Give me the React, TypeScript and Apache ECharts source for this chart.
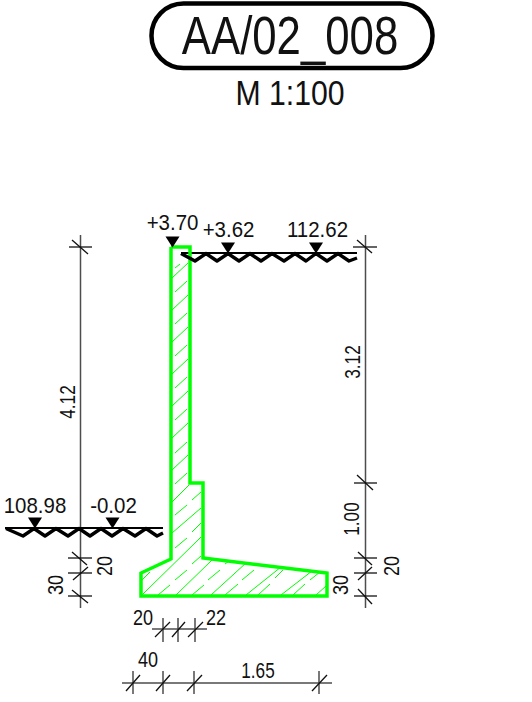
import React, { useEffect, useRef } from "react";
import * as echarts from "echarts";

const GREEN = "#00ff00";
const BLACK = "#000000";
const GREY = "#4d4d4d";
const FONT = '"Liberation Sans", Arial, sans-serif';

// drawing outline, in picture units (x, y down)
const outline = [
  [171, 247], [190, 247], [190, 483], [203, 483], [203, 558], [327, 573], [327, 596],
  [141, 596], [141, 573], [171, 559], [171, 247],
];

const hatchLong = [
  [172, 278, 188, 263], [172, 310, 188, 295], [172, 342, 188, 327], [172, 374, 188, 359],
  [172, 406, 188, 391], [172, 438, 188, 423], [172, 470, 188, 455], [172, 502, 189, 485],
  [172, 533, 201, 508], [143, 594, 201, 537],
  [176, 595, 212, 560],
  [211, 595, 246, 563], [246, 595, 281, 567], [281, 595, 312, 571], [316, 595, 326, 586],
];
const hatchShort = [
  [175, 268, 180, 264], [175, 292, 187, 281], [175, 324, 187, 313], [175, 356, 187, 345],
  [175, 388, 187, 377], [175, 420, 187, 409], [175, 453, 187, 442], [175, 484, 187, 473],
  [175, 515, 187, 505], [192, 500, 201, 492], [175, 548, 187, 538], [192, 532, 201, 523],
  [142, 580, 150, 572], [158, 595, 170, 585], [175, 580, 187, 570], [192, 564, 201, 556],
  [192, 595, 204, 585], [208, 580, 220, 570], [225, 564, 229, 561],
  [225, 595, 238, 584], [242, 580, 254, 570],
  [258, 595, 270, 584], [275, 578, 283, 570],
  [293, 595, 305, 584], [310, 580, 320, 572],
];

const waveUpper = [
  [181, 253.5], [195, 261], [206, 253.5], [217, 261], [228, 253.5], [239, 261], [250, 253.5], [261, 261],
  [272, 253.5], [284, 261], [295, 253.5], [306, 261], [316, 253.5], [327, 261], [338, 253.5], [349, 261], [357, 258],
];
const waveLower = [
  [6, 528.5], [23, 536], [34, 528.5], [45, 536], [56, 528.5], [68, 536], [79, 528.5], [90, 536],
  [101, 528.5], [112, 536], [123, 528.5], [135, 536], [146, 528.5], [157, 536], [163, 533],
];

const groundLines = [
  [181, 253, 357, 253],
  [5, 528, 163, 528],
];

const dimLines = [
  [80.5, 235, 80.5, 608], [365.5, 235, 365.5, 608],
  [163, 618, 163, 642], [178, 618, 178, 642], [195, 618, 195, 642],
  [133, 671, 133, 694], [163, 671, 163, 694], [194, 671, 194, 694], [319, 671, 319, 694],
  [152, 629, 207, 629], [122, 683, 332, 683],
];
const tickLines = [
  [69, 247, 92, 247], [72, 240, 88, 254],
  [68, 558, 92, 558], [72, 552, 87, 565],
  [68, 573, 92, 573], [73, 580, 88, 567],
  [68, 596, 92, 596], [72, 590, 88, 603],
  [353, 247, 377, 247], [357, 240, 372, 253],
  [354, 483, 377, 483], [357, 475, 373, 490],
  [354, 558, 377, 558], [358, 552, 372, 565],
  [354, 573, 377, 573], [358, 580, 372, 567],
  [354, 596, 377, 596], [358, 589, 372, 604],
  [155, 637, 170, 622], [172, 637, 185, 622], [188, 637, 203, 622],
  [126, 691, 140, 675], [156, 691, 170, 675], [187, 691, 202, 675], [312, 691, 327, 675],
];

const markers = [
  [172.5, 242], [228, 248], [316, 248], [35, 523], [112.5, 523],
];

// text, x centre, y centre, font size, horizontal squeeze, rotation in degrees
const labelTexts = [
  "AA/02_008", "M 1:100", "+3.70", "+3.62", "112.62", "108.98", "-0.02",
  "4.12", "3.12", "1.00", "20", "30", "30", "20", "20", "22", "40", "1.65", "42",
];
const labelX = [290, 290, 172.5, 228.5, 317.5, 35, 113.5, 67, 352, 351, 391, 340, 55, 104, 143, 216, 148, 258, 181];
const labelY = [35, 93, 223, 230, 230, 506, 506, 402, 362, 519, 566, 585, 585, 566, 617, 617, 659, 670, 709];
const labelSize = [54, 36, 22, 22, 22, 22, 22, 22, 22, 22, 22, 22, 22, 22, 22, 22, 22, 22, 22];
const labelSqueeze = [0.81, 0.84, 0.93, 0.93, 0.93, 0.93, 0.93, 0.78, 0.78, 0.78, 0.82, 0.82, 0.82, 0.82, 0.82, 0.82, 0.82, 0.78, 0.82];
const labelRotate = [0, 0, 0, 0, 0, 0, 0, 90, 90, 90, 90, 90, 90, 90, 0, 0, 0, 0, 0];

function segments(id: string, data: number[][], stroke: string, lineWidth: number) {
  return {
    id,
    type: "custom",
    coordinateSystem: "cartesian2d",
    silent: true,
    clip: false,
    data,
    renderItem: (_p: any, api: any) => {
      const a = api.coord([api.value(0), api.value(1)]);
      const b = api.coord([api.value(2), api.value(3)]);
      return {
        type: "line",
        shape: { x1: a[0], y1: a[1], x2: b[0], y2: b[1] },
        style: { stroke, lineWidth, fill: "none" },
      };
    },
    encode: { x: [0, 2], y: [1, 3] },
  };
}

function polyline(id: string, data: number[][], color: string, width: number, join: string, z: number) {
  return {
    id,
    type: "line",
    silent: true,
    symbol: "none",
    clip: false,
    z,
    data,
    lineStyle: { color, width, join, cap: "butt" },
  };
}

export default function App() {
  const ref = useRef<HTMLDivElement>(null);
  useEffect(() => {
    const chart = echarts.init(ref.current!, undefined, { renderer: "svg" });
    chart.setOption({
      animation: false,
      backgroundColor: "#ffffff",
      grid: { left: 0, right: 0, top: 0, bottom: 0 },
      xAxis: { type: "value", min: 0, max: 532, show: false },
      yAxis: { type: "value", min: 0, max: 702, inverse: true, show: false },
      graphic: [
        {
          type: "rect",
          shape: { x: 151.5, y: 3.5, width: 281, height: 64.5, r: 32 },
          style: { fill: "none", stroke: BLACK, lineWidth: 4.5 },
        },
      ],
      series: [
        segments("hatchLong", hatchLong, GREEN, 1),
        segments("hatchShort", hatchShort, GREEN, 1),
        polyline("outline", outline, GREEN, 3.5, "miter", 3),
        segments("dims", dimLines, GREY, 1.5),
        segments("ticks", tickLines, "#111111", 1.3),
        segments("ground", groundLines, BLACK, 1.8),
        polyline("waveUpper", waveUpper, BLACK, 3.4, "round", 4),
        polyline("waveLower", waveLower, BLACK, 3.4, "round", 4),
        {
          id: "markers",
          type: "scatter",
          silent: true,
          clip: false,
          z: 5,
          symbol: "triangle",
          symbolRotate: 180,
          symbolSize: [14, 11],
          itemStyle: { color: BLACK, opacity: 1 },
          data: markers,
        },
        {
          id: "labels",
          type: "custom",
          coordinateSystem: "cartesian2d",
          silent: true,
          clip: false,
          z: 6,
          data: labelX.map((x, i) => [x, labelY[i]]),
          renderItem: (p: any, api: any) => {
            const i = p.dataIndex;
            const c = api.coord([api.value(0), api.value(1)]);
            const rot = labelRotate[i];
            return {
              type: "text",
              x: c[0],
              y: c[1],
              rotation: (rot * Math.PI) / 180,
              scaleX: labelSqueeze[i],
              style: {
                text: labelTexts[i],
                fontFamily: FONT,
                fontSize: labelSize[i],
                fill: "#111111",
                align: "center",
                verticalAlign: "middle",
              },
            };
          },
        },
      ],
    });
    return () => chart.dispose();
  }, []);
  return (
    <div
      ref={ref}
      style={{ position: "fixed", left: 0, top: 0, width: 532, height: 702, background: "#fff" }}
    />
  );
}
